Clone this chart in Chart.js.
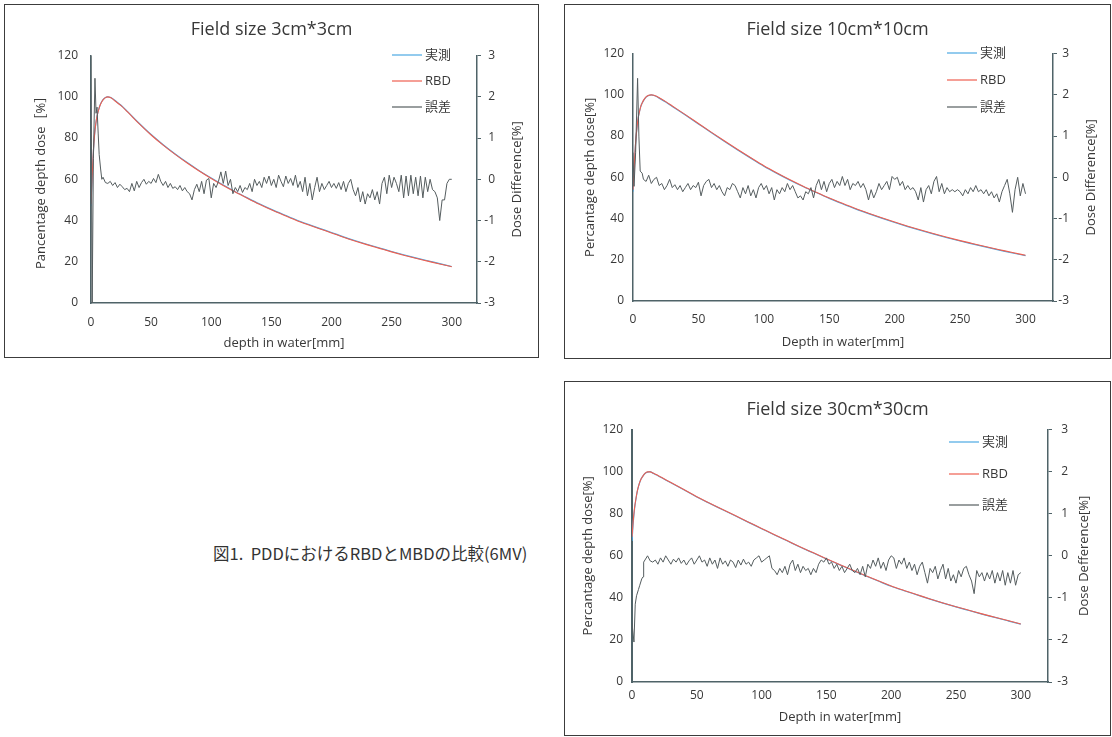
<!DOCTYPE html>
<html lang="ja">
<head>
  <meta charset="UTF-8" />
  <title>PDD comparison RBD / MBD</title>
  <script src="https://cdn.jsdelivr.net/npm/chart.js"></script>
  <style>
    body {
      margin: 0;
      width: 1112px;
      height: 737px;
      position: relative;
      overflow: hidden;
      background: #fff;
    }
    .box {
      position: absolute;
      border: 1px solid #3c3c3c;
      background: #fff;
    }
    .box canvas { display: block; }
    #caption {
      position: absolute;
      left: 213px;
      top: 541px;
      font-family: 'Noto Sans CJK JP', sans-serif;
      font-size: 16.5px;
      color: #333;
      white-space: nowrap;
    }
  </style>
</head>
<body>
  <div class="box" style="left:4px;top:4px;"><canvas id="c1" width="533" height="352"></canvas></div>
  <div class="box" style="left:564px;top:4px;"><canvas id="c2" width="545" height="353"></canvas></div>
  <div class="box" style="left:564px;top:381px;"><canvas id="c3" width="545" height="353"></canvas></div>
  <div id="caption">図1.&nbsp;&nbsp;PDDにおけるRBDとMBDの比較(6MV)</div>

  <script>
    // depth [mm] for the PDD curves
    const pddDepth = [0, 1, 2, 3, 4, 5, 6, 7, 8, 10, 12, 14, 16, 18, 20, 25,
      30, 40, 50, 60, 70, 80, 90, 100, 110, 120, 130, 140, 150, 160, 170, 180, 190, 200,
      210, 220, 230, 240, 250, 260, 270, 280, 290, 300];

    // depth [mm] for the dose difference, after the build-up points
    const errDepth = [10, 12, 14, 16, 18, 20, 22, 24, 26, 28,
      30, 32, 34, 36, 38, 40, 42, 44, 46, 48,
      50, 52, 54, 56, 58, 60, 62, 64, 66, 68,
      70, 72, 74, 76, 78, 80, 82, 84, 86, 88,
      90, 92, 94, 96, 98, 100, 102, 104, 106, 108,
      110, 112, 114, 116, 118, 120, 122, 124, 126, 128,
      130, 132, 134, 136, 138, 140, 142, 144, 146, 148,
      150, 152, 154, 156, 158, 160, 162, 164, 166, 168,
      170, 172, 174, 176, 178, 180, 182, 184, 186, 188,
      190, 192, 194, 196, 198, 200, 202, 204, 206, 208,
      210, 212, 214, 216, 218, 220, 222, 224, 226, 228,
      230, 232, 234, 236, 238, 240, 242, 244, 246, 248,
      250, 252, 254, 256, 258, 260, 262, 264, 266, 268,
      270, 272, 274, 276, 278, 280, 282, 284, 286, 288,
      290, 292, 294, 296, 298, 300];

    // ---- Field size 3cm*3cm ----
    const meas3 = [47, 61, 73.5, 81.8, 87, 90.6, 93.1, 95.1, 96.6, 98.6, 99.7, 100, 99.8, 99.1, 98.2, 95.9,
      93.1, 87.2, 81.7, 76.8, 72.3, 68.1, 64.2, 60.6, 57.2, 54, 51, 48.1, 45.4, 42.9, 40.5, 38.3, 36.2, 34.2,
      32.1, 30.2, 28.4, 26.7, 25, 23.4, 21.9, 20.5, 19.1, 17.7];
    const rbd3 = [48, 62, 74, 82, 87, 90.5, 93, 95, 96.5, 98.5, 99.6, 100, 99.7, 99, 98, 95.7,
      92.9, 87, 81.5, 76.6, 72.1, 67.9, 64, 60.4, 57, 53.8, 50.8, 47.9, 45.2, 42.7, 40.3, 38.1, 36, 34,
      31.9, 30, 28.2, 26.5, 24.8, 23.2, 21.7, 20.3, 18.9, 17.6];
    const errEarlyDepth3 = [0, 1, 2, 3.3, 4.2, 5, 6, 6.8, 8, 9];
    const errEarly3 = [3, -3, 0.5, 2.45, 1.6, 1.75, 1.1, 0.6, 0.25, 0];
    const err3 = [0.05, -0.08, -0.1, -0.05, -0.15, -0.08, -0.2, -0.12, -0.18, -0.25,
      -0.22, -0.3, -0.1, -0.28, -0.05, -0.2, -0.08, 0, -0.12, -0.05,
      -0.1, 0.02, -0.08, 0.12, -0.05, -0.15, -0.05, -0.2, -0.1, -0.22,
      -0.18, -0.25, -0.15, -0.28, -0.2, -0.3, -0.35, -0.5, -0.25, -0.12,
      -0.3, -0.05, -0.35, -0.02, 0.02, -0.45, -0.1, -0.2, -0.05, 0.18,
      -0.1, 0.2, -0.15, 0, -0.35, -0.2, -0.3, -0.15, -0.32, -0.2,
      -0.25, -0.1, -0.3, 0, -0.15, -0.05, -0.2, 0.05, -0.1, 0.08,
      -0.15, 0, -0.2, 0.1, -0.05, -0.18, 0.08, -0.1, 0.02, -0.15,
      0.1, -0.2, -0.05, -0.3, 0.05, -0.4, -0.1, -0.5, -0.2, 0.05,
      -0.3, -0.1, -0.25, -0.15, -0.05, -0.2, -0.1, -0.22, -0.08, -0.25,
      -0.05, -0.3, -0.1, 0, -0.25, -0.4, -0.2, -0.55, -0.3, -0.6,
      -0.35, -0.45, -0.25, -0.5, -0.3, -0.6, -0.1, 0.05, -0.35, 0.1,
      -0.2, 0.05, -0.1, -0.3, 0.1, -0.45, 0.08, -0.4, 0.1, -0.35,
      0.05, -0.4, 0.08, -0.45, 0.05, -0.3, 0, -0.25, -0.3, -0.45,
      -1, -0.5, -0.5, -0.1, 0, 0];

    // ---- Field size 10cm*10cm ----
    const meas10 = [53, 65, 76.5, 83.8, 88.9, 92, 94.4, 96, 97.2, 98.9, 99.7, 100, 99.7, 99.2, 98.4, 96.5,
      94.4, 90.2, 85.9, 81.6, 77.4, 73.3, 69.3, 65.4, 61.9, 58.6, 55.5, 52.6, 49.8, 47.2, 44.7, 42.4, 40.2, 38.1,
      36.1, 34.2, 32.4, 30.7, 29.1, 27.6, 26.1, 24.7, 23.3, 22];
    const rbd10 = [54, 66, 77, 84, 89, 92, 94.5, 96, 97.3, 99, 99.8, 100, 99.8, 99.3, 98.6, 96.7,
      94.6, 90.4, 86.1, 81.8, 77.6, 73.5, 69.5, 65.6, 62.1, 58.8, 55.7, 52.8, 50, 47.4, 44.9, 42.6, 40.4, 38.3,
      36.3, 34.4, 32.6, 30.9, 29.3, 27.8, 26.3, 24.9, 23.5, 22.2];
    const errEarlyDepth10 = [0, 0.8, 2, 3.5, 4.5, 5.5, 7, 8];
    const errEarly10 = [0.6, -0.22, 0.6, 2.4, 1, 0.15, 0.1, -0.05];
    const err10 = [-0.1, 0.05, -0.15, -0.05, 0, -0.2, -0.15, -0.3, -0.2, -0.05,
      -0.25, -0.18, -0.3, -0.2, -0.35, -0.25, -0.15, -0.3, -0.2, -0.25,
      -0.12, -0.45, -0.2, -0.1, -0.05, -0.25, -0.15, -0.3, -0.2, -0.35,
      -0.45, -0.25, -0.3, -0.15, -0.2, -0.35, -0.5, -0.25, -0.4, -0.2,
      -0.45, -0.3, -0.5, -0.25, -0.15, -0.3, -0.2, -0.4, -0.25, -0.55,
      -0.3, -0.4, -0.25, -0.35, -0.15, -0.3, -0.2, -0.35, -0.5, -0.45,
      -0.55, -0.35, -0.4, -0.25, -0.5, -0.2, -0.05, -0.3, -0.1, -0.35,
      -0.15, -0.05, -0.25, -0.1, -0.2, 0.02, -0.2, -0.05, -0.3, -0.15,
      -0.2, -0.1, -0.25, -0.15, -0.3, -0.55, -0.3, -0.5, -0.35, -0.15,
      -0.3, -0.2, -0.1, -0.3, 0.02, -0.05, 0, -0.2, -0.1, -0.3,
      -0.2, -0.3, -0.25, -0.35, -0.55, -0.25, -0.6, -0.3, -0.2, -0.4,
      -0.1, 0.02, -0.35, -0.15, -0.4, -0.25, -0.35, -0.3, -0.35, -0.3,
      -0.35, -0.45, -0.3, -0.4, -0.25, -0.35, -0.2, -0.35, -0.3, -0.4,
      -0.3, -0.45, -0.35, -0.5, -0.4, -0.6, -0.35, -0.2, -0.05, -0.4,
      -0.85, -0.3, 0, -0.45, -0.15, -0.4];

    // ---- Field size 30cm*30cm ----
    const meas30 = [67, 76, 82.5, 86.8, 90.4, 93, 95, 96.5, 97.5, 99.1, 99.8, 100, 99.3, 98.7, 98.1, 96.4,
      94.7, 91.4, 88, 84.9, 81.9, 78.9, 75.9, 72.9, 69.9, 67, 64.1, 61.3, 58.5, 55.8, 53.1, 50.5, 48, 45.5,
      43.4, 41.4, 39.4, 37.5, 35.7, 34, 32.3, 30.7, 29.1, 27.5];
    const rbd30 = [69, 77, 83, 87, 90.5, 93, 95, 96.5, 97.5, 99.2, 99.9, 99.9, 99.4, 98.8, 98.2, 96.5,
      94.8, 91.5, 88.1, 85, 82, 79, 76, 73, 70, 67.1, 64.2, 61.4, 58.6, 55.9, 53.2, 50.6, 48.1, 45.6,
      43.5, 41.5, 39.5, 37.6, 35.8, 34.1, 32.4, 30.8, 29.2, 27.6];
    const errEarlyDepth30 = [0, 1.5, 2.5, 3.5, 5, 6, 7.5, 8.5, 9];
    const errEarly30 = [-1.6, -2.05, -1.15, -0.95, -0.8, -0.7, -0.55, -0.5, -0.15];
    const err30 = [-0.1, 0, -0.12, -0.15, -0.1, -0.2, -0.05, -0.15, 0, -0.1,
      -0.2, -0.08, -0.15, -0.05, -0.18, -0.1, -0.22, -0.12, -0.05, -0.2,
      -0.1, 0, -0.15, -0.1, -0.25, -0.05, -0.2, -0.1, -0.3, -0.05,
      -0.2, -0.12, -0.25, -0.1, -0.15, -0.28, -0.1, -0.22, -0.08, -0.2,
      -0.15, -0.25, -0.1, -0.05, 0, -0.15, -0.1, -0.05, 0, -0.3,
      -0.35, -0.45, -0.3, -0.4, -0.25, -0.45, -0.2, -0.1, -0.35, -0.2,
      -0.4, -0.25, -0.35, -0.3, -0.45, -0.3, -0.4, -0.2, -0.1, -0.15,
      -0.05, -0.2, -0.15, -0.3, -0.2, -0.35, -0.25, -0.4, -0.3, -0.2,
      -0.35, -0.4, -0.3, -0.45, -0.25, -0.5, -0.2, -0.3, -0.1, -0.25,
      -0.05, -0.3, -0.15, -0.35, -0.1, 0, -0.05, -0.3, -0.1, -0.2,
      -0.05, -0.3, -0.15, -0.35, -0.2, -0.45, -0.25, -0.15, -0.4, -0.65,
      -0.3, -0.4, -0.25, -0.55, -0.35, -0.2, -0.55, -0.3, -0.6, -0.45,
      -0.65, -0.35, -0.5, -0.3, -0.25, -0.45, -0.6, -0.9, -0.35, -0.5,
      -0.4, -0.6, -0.4, -0.55, -0.35, -0.65, -0.4, -0.6, -0.35, -0.7,
      -0.4, -0.65, -0.35, -0.7, -0.45, -0.4];

    const FONT = "'Open Sans', 'Noto Sans CJK JP', sans-serif";
    const TEXT = '#383838';
    const AXIS = '#4f6368';
    const BLUE = '#4aa8e2';
    const RED = '#ef5f50';
    const GRAY = '#555d5f';

    Chart.defaults.font.family = FONT;
    Chart.defaults.color = TEXT;

    // legend drawn inside the plot, top right, like the Excel original
    const sideLegend = {
      id: 'sideLegend',
      afterDraw(chart, args, opts) {
        const ctx = chart.ctx;
        chart.data.datasets.forEach((ds, i) => {
          const y = opts.rows[i];
          ctx.save();
          ctx.strokeStyle = ds.borderColor;
          ctx.lineWidth = 1.2;
          ctx.beginPath();
          ctx.moveTo(opts.x, y);
          ctx.lineTo(opts.x + 30, y);
          ctx.stroke();
          ctx.fillStyle = TEXT;
          ctx.font = '13px ' + FONT;
          ctx.textBaseline = 'middle';
          ctx.fillText(ds.label, opts.x + 33, y);
          ctx.restore();
        });
      }
    };

    // secondary axis title reads bottom-to-top
    const rightTitle = {
      id: 'rightTitle',
      afterDraw(chart, args, opts) {
        const { ctx, chartArea } = chart;
        ctx.save();
        ctx.translate(opts.x, (chartArea.top + chartArea.bottom) / 2);
        ctx.rotate(-Math.PI / 2);
        ctx.font = '13px ' + FONT;
        ctx.fillStyle = TEXT;
        ctx.textAlign = 'center';
        ctx.textBaseline = 'middle';
        ctx.fillText(opts.text, 0, 0);
        ctx.restore();
      }
    };

    // right-aligned secondary tick labels: 'far' aligns to the scale's right edge
    const rightLabels = {
      id: 'rightLabels',
      afterLayout(chart, args, opts) {
        const s = chart.scales.y2;
        s.right = opts.edge;
        s._labelItems = null;
      }
    };

    function toPoints(xs, ys) {
      return xs.map((x, i) => ({ x: x, y: ys[i] }));
    }

    function makeChart(id, c) {
      const errPts = toPoints(c.earlyDepth, c.early).concat(toPoints(errDepth, c.err));
      return new Chart(document.getElementById(id), {
        type: 'line',
        data: {
          datasets: [
            { label: '実測', data: toPoints(pddDepth, c.meas), borderColor: BLUE, borderWidth: 1.2,
              pointRadius: 0, cubicInterpolationMode: 'monotone', yAxisID: 'y', order: 3 },
            { label: 'RBD', data: toPoints(pddDepth, c.rbd), borderColor: RED, borderWidth: 1.1,
              pointRadius: 0, cubicInterpolationMode: 'monotone', yAxisID: 'y', order: 2 },
            { label: '誤差', data: errPts, borderColor: GRAY, borderWidth: 1,
              pointRadius: 0, tension: 0, yAxisID: 'y2', order: 1 }
          ]
        },
        options: {
          responsive: false,
          animation: false,
          layout: { padding: 0 },
          plugins: {
            legend: { display: false },
            tooltip: { enabled: false },
            title: {
              display: true, text: c.title, color: TEXT,
              font: { size: 18, weight: 'normal' },
              padding: { top: c.titleTop, bottom: c.titleBottom }
            },
            sideLegend: { x: c.legendX, rows: c.legendRows },
            rightTitle: { text: c.rightTitle, x: c.rightTitleX },
            rightLabels: { edge: c.y2Edge }
          },
          scales: {
            x: {
              type: 'linear', min: 0, max: 321,
              afterFit: s => { s.height = c.xHeight; },
              grid: { display: false, drawTicks: false },
              border: { color: AXIS, width: 1.5 },
              ticks: { stepSize: 50, includeBounds: false, padding: c.xPad, font: { size: 12 } },
              title: { display: true, text: c.xTitle, font: { size: 13 }, padding: { top: 0, bottom: c.xTitlePad } }
            },
            y: {
              position: 'left', min: 0, max: 120,
              afterFit: s => { s.width = c.yWidth; },
              grid: { display: false, drawTicks: false },
              border: { color: AXIS, width: c.yBorder },
              ticks: { stepSize: 20, padding: c.yPad, font: { size: 12 } },
              title: { display: true, text: c.yTitle, font: { size: 13 }, padding: { top: c.yTitlePad, bottom: 0 } }
            },
            y2: {
              position: 'right', min: -3, max: 3,
              afterFit: s => { s.width = c.y2Width; },
              grid: { display: true, drawOnChartArea: false, drawTicks: true, tickLength: 4, color: AXIS, lineWidth: 1 },
              border: { color: AXIS, width: 1.5 },
              ticks: { stepSize: 1, crossAlign: 'far', font: { size: 12 } }
            }
          }
        },
        plugins: [sideLegend, rightTitle, rightLabels]
      });
    }

    makeChart('c1', {
      title: 'Field size 3cm*3cm', meas: meas3, rbd: rbd3,
      earlyDepth: errEarlyDepth3, early: errEarly3, err: err3,
      xTitle: 'depth in water[mm]', yTitle: 'Pancentage depth dose［%］', rightTitle: 'Dose Difference[%]',
      titleTop: 14, titleBottom: 15, xHeight: 54, yWidth: 86, y2Width: 61, y2Edge: 490,
      xPad: 12, xTitlePad: 6, yPad: 13, yTitlePad: 28, yBorder: 1.5,
      legendX: 387, legendRows: [50, 76, 102], rightTitleX: 512
    });

    makeChart('c2', {
      title: 'Field size 10cm*10cm', meas: meas10, rbd: rbd10,
      earlyDepth: errEarlyDepth10, early: errEarly10, err: err10,
      xTitle: 'Depth in water[mm]', yTitle: 'Percantage depth dose[%]', rightTitle: 'Dose Difference[%]',
      titleTop: 14, titleBottom: 13, xHeight: 57, yWidth: 68, y2Width: 57, y2Edge: 504,
      xPad: 11, xTitlePad: 8, yPad: 9, yTitlePad: 17, yBorder: 1.5,
      legendX: 382, legendRows: [48, 75, 102], rightTitleX: 526
    });

    makeChart('c3', {
      title: 'Field size 30cm*30cm', meas: meas30, rbd: rbd30,
      earlyDepth: errEarlyDepth30, early: errEarly30, err: err30,
      xTitle: 'Depth in water[mm]', yTitle: 'Percantage depth dose[%]', rightTitle: 'Dose Defference[%]',
      titleTop: 17, titleBottom: 9, xHeight: 53, yWidth: 67, y2Width: 62, y2Edge: 503,
      xPad: 6, xTitlePad: 10, yPad: 9, yTitlePad: 15, yBorder: 2,
      legendX: 384, legendRows: [60, 92, 123], rightTitleX: 519
    });
  </script>
</body>
</html>
